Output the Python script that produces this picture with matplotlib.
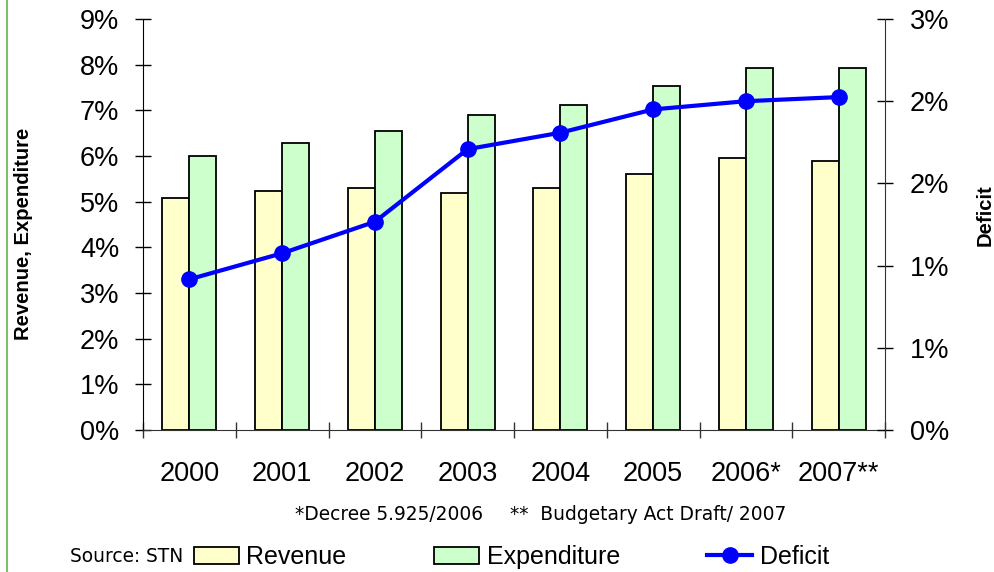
import matplotlib
matplotlib.use("Agg")
import matplotlib.pyplot as plt
from matplotlib.lines import Line2D
from matplotlib.patches import Patch
from matplotlib.ticker import FuncFormatter, FixedLocator
import numpy as np

years = ["2000", "2001", "2002", "2003", "2004", "2005", "2006*", "2007**"]
revenue = [5.07, 5.23, 5.31, 5.20, 5.31, 5.61, 5.95, 5.88]
expenditure = [5.99, 6.29, 6.55, 6.90, 7.12, 7.54, 7.92, 7.92]
deficit = [1.10, 1.29, 1.52, 2.05, 2.17, 2.34, 2.40, 2.43]

left_ticks = [0, 1, 2, 3, 4, 5, 6, 7, 8, 9]
right_ticks = [0, 0.6, 1.2, 1.8, 2.4, 3.0]

plt.rcParams["font.family"] = ["Liberation Sans", "DejaVu Sans"]

fig = plt.figure(figsize=(9.94, 5.72), dpi=100)
ax = fig.add_axes([143 / 994, 1 - 430 / 572, (885 - 143) / 994, (430 - 19) / 572])
ax2 = ax.twinx()

x = np.arange(len(years))
w = 0.29
ax.bar(x - w / 2, revenue, width=w, color="#FFFFCC", edgecolor="black", linewidth=1.3, zorder=2)
ax.bar(x + w / 2, expenditure, width=w, color="#CCFFCC", edgecolor="black", linewidth=1.3, zorder=2)
ax2.plot(x, deficit, color="#0000FF", linewidth=3, marker="o", markersize=11, zorder=3)

ax.set_xlim(-0.5, len(years) - 0.5)
ax.set_ylim(0, 9)
ax2.set_ylim(0, 3)

pct = FuncFormatter(lambda v, p: f"{v:.0f}%")
ax.yaxis.set_major_locator(FixedLocator(left_ticks))
ax.yaxis.set_major_formatter(pct)
ax2.yaxis.set_major_locator(FixedLocator(right_ticks))
ax2.yaxis.set_major_formatter(pct)

ax.set_xticks(x)
ax.set_xticklabels(years)
ax.set_xticks(np.arange(len(years) + 1) - 0.5, minor=True)
ax.tick_params(axis="x", which="major", length=0, pad=22, labelsize=19.5)
ax.tick_params(axis="x", which="minor", direction="inout", length=12, width=1, color="#333333")
ax.tick_params(axis="y", direction="inout", length=12, width=1, labelsize=19.5, pad=11)
ax2.tick_params(axis="y", direction="inout", length=12, width=1, labelsize=19.5, pad=12)

for a in (ax, ax2):
    a.spines["top"].set_visible(False)
ax.spines["right"].set_visible(False)
ax2.spines["left"].set_visible(False)
ax2.spines["bottom"].set_visible(False)
ax.spines["left"].set_color("black")
ax.spines["bottom"].set_color("#333333")
ax2.spines["right"].set_color("#333333")

ax.set_zorder(ax2.get_zorder() - 1)
ax2.patch.set_visible(False)
ax.patch.set_visible(False)

fig.text(24 / 994, 1 - 234 / 572, "Revenue, Expenditure", rotation=90, ha="center", va="center",
         fontsize=14.6, fontweight="bold")
fig.text(985 / 994, 1 - 215 / 572, "Deficit", rotation=90, ha="center", va="center",
         fontsize=14.6, fontweight="bold")

fig.text(295 / 994, 1 - 515 / 572, "*Decree 5.925/2006", ha="left", va="center",
         fontsize=13.4, family="DejaVu Sans")
fig.text(510 / 994, 1 - 515 / 572, "**  Budgetary Act Draft/ 2007", ha="left", va="center",
         fontsize=13.4, family="DejaVu Sans")
fig.text(70 / 994, 1 - 557 / 572, "Source: STN", ha="left", va="center",
         fontsize=13.4, family="DejaVu Sans")

handles = [
    Patch(facecolor="#FFFFCC", edgecolor="black", linewidth=1.3),
    Patch(facecolor="#CCFFCC", edgecolor="black", linewidth=1.3),
    Line2D([], [], color="#0000FF", linewidth=3, marker="o", markersize=11),
]
fig.legend(handles, ["Revenue", "Expenditure", "Deficit"], loc="center left",
           bbox_to_anchor=(194 / 994, 1 - 557 / 572), ncol=3, frameon=False, fontsize=18,
           handlelength=1.8, handleheight=0.7, handletextpad=0.3, columnspacing=3.5,
           borderpad=0, borderaxespad=0)

fig.add_artist(Line2D([7 / 994, 7 / 994], [0, 1], transform=fig.transFigure,
                      color="#7DBF6E", linewidth=1.5))

fig.savefig("out.png", dpi=100)
